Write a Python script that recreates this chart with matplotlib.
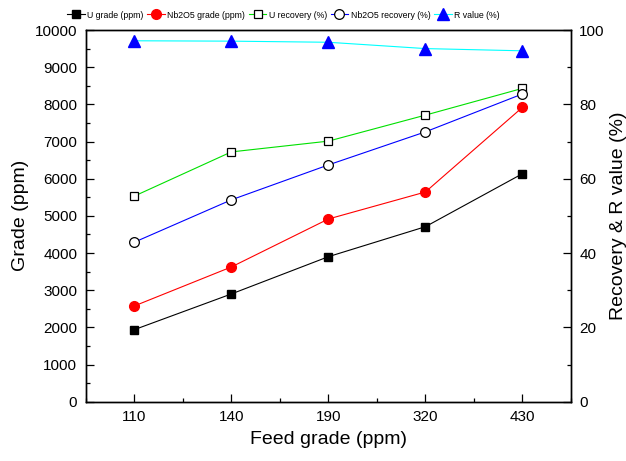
import matplotlib
matplotlib.use("Agg")
import matplotlib.pyplot as plt
from matplotlib.ticker import MultipleLocator

plt.rcParams['font.family'] = 'sans-serif'
plt.rcParams['font.sans-serif'] = ['Liberation Sans']

# data
feed_grade = ['110', '140', '190', '320', '430']
u_grade = [1937, 2898, 3901, 4708, 6134]
nb_grade = [2575, 3624, 4915, 5642, 7920]
u_recovery = [55.3, 67.2, 70.1, 77.1, 84.3]
nb_recovery = [42.9, 54.3, 63.7, 72.6, 82.8]
r_value = [97.1, 97.0, 96.7, 95.0, 94.4]


def main():
    fig = plt.figure(figsize=(6.26, 4.61), dpi=100)
    W, H = 626, 461
    left, right, top, bottom = 85.7, 571, 30, 401.7
    ax = fig.add_axes([left / W, 1 - bottom / H, (right - left) / W,
                       (bottom - top) / H])
    ax2 = ax.twinx()

    x = list(range(len(feed_grade)))
    lw = 0.8
    h1, = ax.plot(x, u_grade, '-s', color='black', lw=lw, ms=6,
                  mfc='black', mec='black', label='U grade (ppm)')
    h2, = ax.plot(x, nb_grade, '-o', color='red', lw=lw, ms=7,
                  mfc='red', mec='red', label='Nb2O5 grade (ppm)')
    h3, = ax2.plot(x, u_recovery, '-s', color='#00e000', lw=lw, ms=6,
                   mfc='white', mec='black', mew=0.9,
                   label='U recovery (%)')
    h4, = ax2.plot(x, nb_recovery, '-o', color='#0000ff', lw=lw, ms=7,
                   mfc='white', mec='black', mew=0.9,
                   label='Nb2O5 recovery (%)')
    h5, = ax2.plot(x, r_value, '-^', color='#00ffff', lw=lw, ms=8,
                   mfc='#0000ff', mec='#0000ff', label='R value (%)')

    ax.set_xlim(-0.5, len(feed_grade) - 0.5)
    ax.set_ylim(0, 10000)
    ax2.set_ylim(0, 100)
    ax.set_xticks(x)
    ax.set_xticklabels(feed_grade)
    ax.xaxis.set_minor_locator(MultipleLocator(0.5))
    ax.yaxis.set_major_locator(MultipleLocator(1000))
    ax.yaxis.set_minor_locator(MultipleLocator(500))
    ax2.yaxis.set_major_locator(MultipleLocator(20))
    ax2.yaxis.set_minor_locator(MultipleLocator(10))

    ax.tick_params(axis='both', which='major', direction='in', length=5.5,
                   width=0.9, labelsize=11, pad=6)
    ax.tick_params(axis='both', which='minor', direction='in', length=2.8,
                   width=0.9)
    ax.tick_params(axis='y', which='both', right=False)
    ax.tick_params(axis='x', which='both', top=False)
    ax2.tick_params(axis='y', which='major', direction='in', length=5.5,
                    width=0.9, labelsize=11, pad=6)
    ax2.tick_params(axis='y', which='minor', direction='in', length=2.8,
                    width=0.9)

    for a in (ax, ax2):
        for sp in a.spines.values():
            sp.set_linewidth(1.0)

    ax.set_xlabel('Feed grade (ppm)', fontsize=14, va='center')
    ax.xaxis.set_label_coords(0.5, -0.103)
    ax.set_ylabel('Grade (ppm)', fontsize=14, va='center')
    ax.yaxis.set_label_coords(-0.135, 0.5)
    ax2.set_ylabel('Recovery & R value (%)', fontsize=14, va='center')
    ax2.yaxis.set_label_coords(1.097, 0.5)

    fig.legend(handles=[h1, h2, h3, h4, h5], loc='center', ncol=5,
               bbox_to_anchor=(283.5 / W, 1 - 15 / H), frameon=False,
               fontsize=6.3, handlelength=2.0, handletextpad=0.3,
               columnspacing=0.4, numpoints=1, markerscale=1.0)

    fig.savefig('out.png', dpi=100)


if __name__ == '__main__':
    main()
